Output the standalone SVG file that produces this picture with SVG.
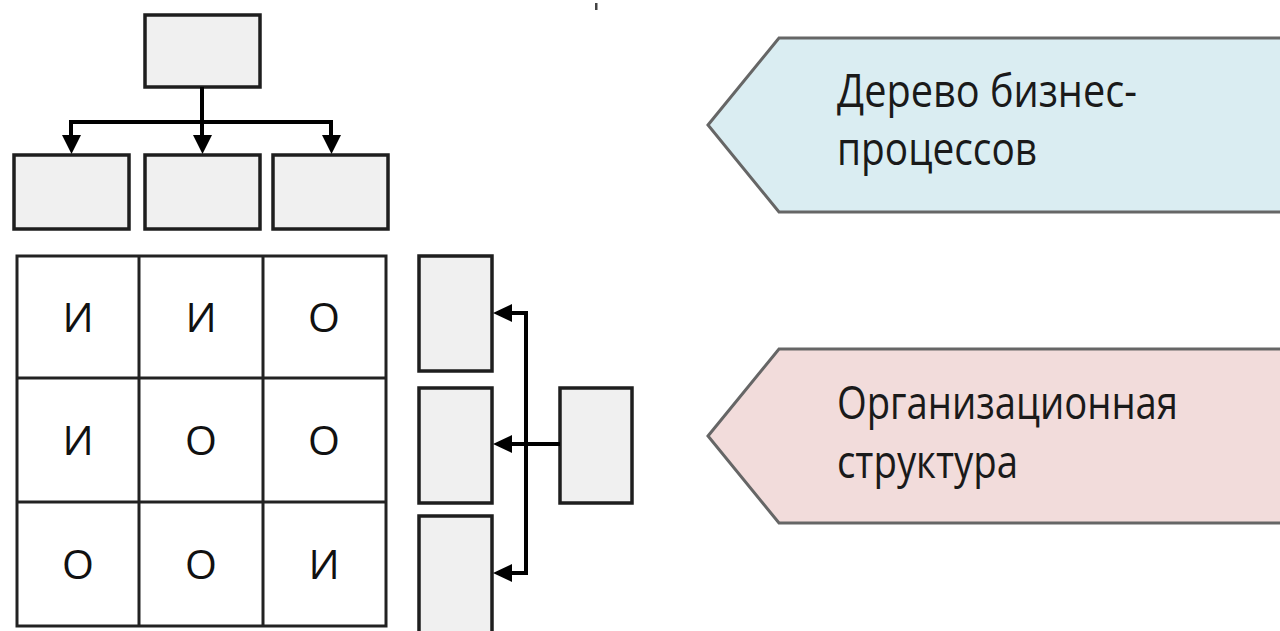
<svg xmlns="http://www.w3.org/2000/svg" width="1280" height="631" viewBox="0 0 1280 631">
<style>
.box{fill:#f0f0f0;stroke:#1e1e1e;stroke-width:3.5}
.cell{fill:#ffffff;stroke:#222;stroke-width:3}
.conn{fill:none;stroke:#000;stroke-width:4}
.ah{fill:#000}
.letter{font-family:"Open Sans","Liberation Sans",sans-serif;font-size:41px;fill:#111;text-anchor:middle}
.lbl{font-family:"Open Sans","Liberation Sans",sans-serif;font-size:45px;fill:#1a1a1a}
.pent{stroke:#666;stroke-width:3}
</style>
<rect x="0" y="0" width="1280" height="631" fill="#ffffff"/>
<rect x="595" y="3" width="2.5" height="7" fill="#444"/>

<g id="tree-root"><rect class="box" x="145" y="15" width="115" height="72"/></g>
<g id="tree-child-1"><rect class="box" x="14" y="155" width="115" height="74"/></g>
<g id="tree-child-2"><rect class="box" x="145" y="155" width="115" height="74"/></g>
<g id="tree-child-3"><rect class="box" x="273" y="155" width="115" height="74"/></g>

<g id="matrix">
<rect class="cell" x="17" y="256" width="369" height="370"/>
<line class="cell" x1="139" y1="256" x2="139" y2="626"/>
<line class="cell" x1="263" y1="256" x2="263" y2="626"/>
<line class="cell" x1="17" y1="378" x2="386" y2="378"/>
<line class="cell" x1="17" y1="502" x2="386" y2="502"/>
<text class="letter" x="78" y="332">И</text>
<text class="letter" x="201" y="332">И</text>
<text class="letter" x="324" y="332">О</text>
<text class="letter" x="78" y="455">И</text>
<text class="letter" x="201" y="455">О</text>
<text class="letter" x="324" y="455">О</text>
<text class="letter" x="78" y="579">О</text>
<text class="letter" x="201" y="579">О</text>
<text class="letter" x="324" y="579">И</text>
</g>

<g id="org-unit-1"><rect class="box" x="419" y="256" width="73" height="115"/></g>
<g id="org-unit-2"><rect class="box" x="419" y="388" width="73" height="115"/></g>
<g id="org-unit-3"><rect class="box" x="419" y="516" width="73" height="125"/></g>
<g id="org-root"><rect class="box" x="560" y="388" width="72" height="115"/></g>

<g id="connectors">
<path class="conn" d="M202 87 V137"/>
<path class="conn" d="M71 137 V122 H331 V137"/>
<polygon class="ah" points="62,135 81,135 71.5,154"/>
<polygon class="ah" points="193,135 212,135 202.5,154"/>
<polygon class="ah" points="322,135 341,135 331.5,154"/>
<path class="conn" d="M560 444 H510"/>
<path class="conn" d="M510 313 H526 V573 H510"/>
<polygon class="ah" points="512,304 512,322 493,313"/>
<polygon class="ah" points="512,435 512,453 493,444"/>
<polygon class="ah" points="512,564 512,582 493,573"/>
</g>

<g id="label-processes">
<polygon class="pent" fill="#daedf2" points="708,125 779,38 1290,38 1290,212 779,212"/>
<text class="lbl" x="837" y="107" textLength="300" lengthAdjust="spacingAndGlyphs">Дерево бизнес-</text>
<text class="lbl" x="837" y="165" textLength="200" lengthAdjust="spacingAndGlyphs">процессов</text>
</g>
<g id="label-org">
<polygon class="pent" fill="#f2dcdb" points="708,436 779,349 1290,349 1290,523 779,523"/>
<text class="lbl" x="837" y="419" textLength="341" lengthAdjust="spacingAndGlyphs">Организационная</text>
<text class="lbl" x="837" y="478" textLength="181" lengthAdjust="spacingAndGlyphs">структура</text>
</g>
</svg>
